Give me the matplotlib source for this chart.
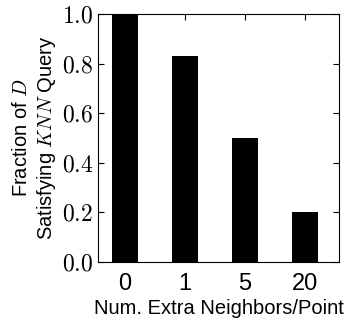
import numpy as np
import matplotlib
matplotlib.use("Agg")
import matplotlib.pyplot as plt

plt.rcParams['mathtext.fontset'] = 'cm'
plt.rcParams['font.family'] = ['Liberation Sans', 'DejaVu Sans']

categories = ["0", "1", "5", "20"]
fractions = [1.0, 0.83, 0.5, 0.2]
yticks = [0.0, 0.2, 0.4, 0.6, 0.8, 1.0]

fig = plt.figure(figsize=(3.45, 3.21), dpi=100)
ax = fig.add_axes([98 / 345, 1 - 262 / 321, 241 / 345, 248 / 321])

x = np.arange(len(categories))
ax.bar(x, fractions, width=0.43, color="black", linewidth=0)

ax.set_xlim(-0.45, 3.57)
ax.set_ylim(0, 1.0)
ax.set_xticks(x)
ax.set_xticklabels(categories, fontsize=17)
ax.set_yticks(yticks)
ax.set_yticklabels(["$%.1f$" % t for t in yticks], fontsize=17)
ax.tick_params(direction="in", top=True, right=True, length=4, width=0.8)
ax.tick_params(axis="x", pad=8)

ax.set_xlabel("Num. Extra Neighbors/Point", fontsize=14.5, labelpad=3)
ax.set_ylabel("Fraction of $D$\nSatisfying $KNN$ Query", fontsize=14.5, labelpad=3)

fig.savefig("out.png", dpi=100)
